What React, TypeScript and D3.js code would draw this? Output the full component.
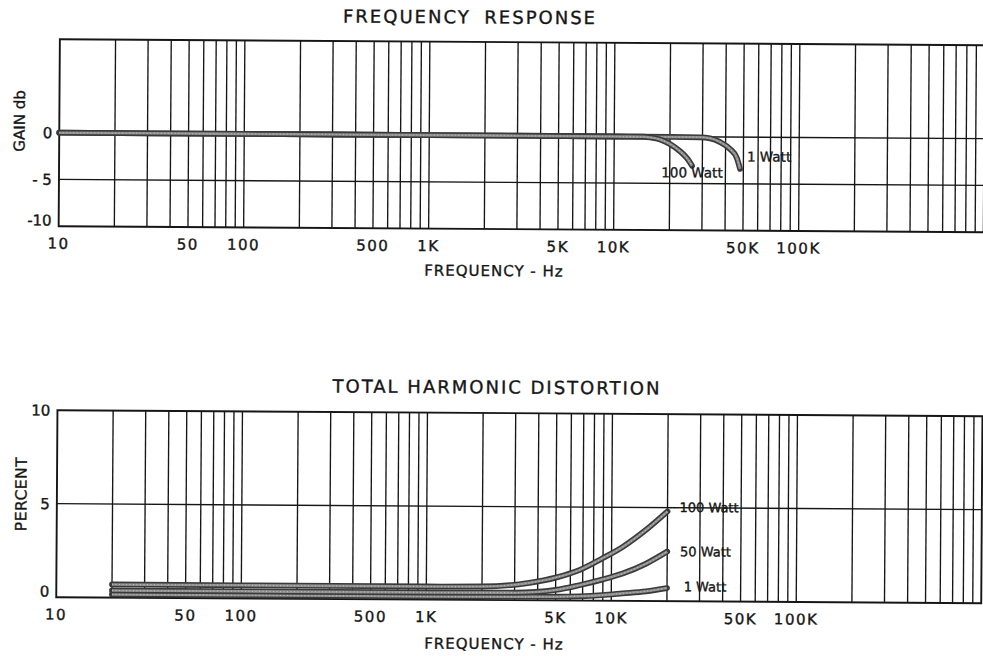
import React from "react";
import * as d3 from "d3";

// ---------- data ----------
const xTickValues = [10, 50, 100, 500, 1000, 5000, 10000, 50000, 100000];
const xTickLabels = ["10", "50", "100", "500", "1K", "5K", "10K", "50K", "100K"];

const gainTickValues = [0, -5, -10];
const gainTickLabels = ["0", "- 5", "-10"];
const gainGridValues = [0, -5];

const thdTickValues = [10, 5, 0];
const thdTickLabels = ["10", "5", "0"];
const thdGridValues = [5];

// Frequency response (gain, dB)
const gain100WFreq = [10, 100, 1000, 10000, 14400, 15700, 17700, 20100, 22700, 24800, 26400];
const gain100WDb = [0, 0, 0, -0.02, -0.03, -0.1, -0.3, -0.8, -1.55, -2.3, -3.1];
const gain1WFreq = [10, 100, 1000, 10000, 20000, 29200, 33000, 37400, 42400, 46000, 48000];
const gain1WDb = [0, 0, 0, -0.02, -0.03, -0.05, -0.15, -0.55, -1.3, -2.2, -3.4];

// Total harmonic distortion (percent)
const thd100WFreq = [20, 100, 1000, 2000, 3600, 5000, 6700, 8900, 11500, 15400, 20000];
const thd100WPct = [0.7, 0.7, 0.7, 0.72, 0.93, 1.22, 1.63, 2.26, 2.89, 3.82, 4.8];
const thd50WFreq = [20, 100, 1000, 3000, 5000, 6700, 8900, 11500, 15400, 20000];
const thd50WPct = [0.38, 0.38, 0.38, 0.4, 0.56, 0.82, 1.13, 1.46, 2.0, 2.65];
const thd1WFreq = [20, 100, 1000, 5000, 6700, 8900, 11500, 15400, 20000];
const thd1WPct = [0.17, 0.17, 0.17, 0.2, 0.23, 0.3, 0.4, 0.52, 0.7];

// ---------- layout ----------
const W = 983;
const H = 656;
const SKEW = 0.372; // scan rotation of the original sheet
const FONT = "'DejaVu Sans', sans-serif";
const INK = "#161616";

const X0 = 58;
const X1 = 983;

const xScale = d3.scaleLog().domain([10, 1e6]).range([X0, X1]);
const gridFreqs = xScale.ticks().filter((f) => f > 10 && f < 1e6);

const yGain = d3.scaleLinear().domain([-10, 10]).range([229, 42]);
const yThd = d3.scaleLinear().domain([0, 10]).range([600, 413]);

const textStyle = { fontFamily: FONT, fill: INK, stroke: INK, strokeWidth: 0.35 } as const;

function Band({ d }: { d: string }) {
  return (
    <g fill="none" strokeLinejoin="round">
      <path d={d} stroke="#3a3a3a" strokeWidth={5.8} strokeLinecap="round" />
      <path d={d} stroke="#8e8e8e" strokeWidth={2.6} strokeLinecap="butt" />
      <path d={d} stroke="#bdbdbd" strokeWidth={1.2} strokeDasharray="1 2.5" strokeLinecap="butt" />
    </g>
  );
}

function Panel({
  yScale,
  gridValues,
  tickValues,
  tickLabels,
  tickBaseY,
}: {
  yScale: d3.ScaleLinear<number, number>;
  gridValues: number[];
  tickValues: number[];
  tickLabels: string[];
  tickBaseY: number;
}) {
  const [yb, yt] = yScale.range();
  return (
    <g>
      {gridFreqs.map((f) => (
        <line key={f} x1={xScale(f)} x2={xScale(f)} y1={yt} y2={yb} stroke={INK} strokeWidth={1.35} />
      ))}
      {gridValues.map((v) => (
        <line key={v} x1={X0} x2={X1} y1={yScale(v)} y2={yScale(v)} stroke={INK} strokeWidth={1.35} />
      ))}
      <rect x={X0} y={yt} width={X1 - X0} height={yb - yt} fill="none" stroke={INK} strokeWidth={1.9} />
      {tickValues.map((v, i) => {
        let y = yScale(v);
        if (v === yScale.domain()[0]) y = Math.min(y, yb - 6);
        return (
          <text key={v} x={51} y={y} dy="0.36em" textAnchor="end" fontSize={15} {...textStyle}>
            {tickLabels[i]}
          </text>
        );
      })}
      {xTickValues.map((f, i) => (
        <text key={f} x={xScale(f)} y={tickBaseY} textAnchor="middle" fontSize={15} letterSpacing={1.5} {...textStyle}>
          {xTickLabels[i]}
        </text>
      ))}
    </g>
  );
}

export default function App() {
  const gainLine = d3
    .line<[number, number]>()
    .x((p) => xScale(p[0]))
    .y((p) => yGain(p[1]))
    .curve(d3.curveMonotoneX);
  const thdLine = d3
    .line<[number, number]>()
    .x((p) => xScale(p[0]))
    .y((p) => yThd(p[1]))
    .curve(d3.curveMonotoneX);

  const zip = (a: number[], b: number[]) => a.map((v, i) => [v, b[i]] as [number, number]);

  return (
    <svg
      width={W}
      height={H}
      viewBox={`0 0 ${W} ${H}`}
      style={{ position: "absolute", left: 0, top: 0, background: "#fff" }}
    >
      <rect width={W} height={H} fill="#fff" />
      <g transform={`rotate(${SKEW}, 491, 328)`}>
        {/* ---------- FREQUENCY RESPONSE ---------- */}
        <text x={468} y={23.5} textAnchor="middle" fontSize={18} letterSpacing={2} wordSpacing={6} {...textStyle}>
          FREQUENCY RESPONSE
        </text>
        <Panel
          yScale={yGain}
          gridValues={gainGridValues}
          tickValues={gainTickValues}
          tickLabels={gainTickLabels}
          tickBaseY={251.5}
        />
        <Band d={gainLine(zip(gain1WFreq, gain1WDb)) || ""} />
        <Band d={gainLine(zip(gain100WFreq, gain100WDb)) || ""} />
        <text x={691} y={171.2} dy="0.36em" textAnchor="middle" fontSize={13.5} {...textStyle}>
          100 Watt
        </text>
        <text x={768} y={154.9} dy="0.36em" textAnchor="middle" fontSize={13.5} {...textStyle}>
          1 Watt
        </text>
        <text x={493.6} y={276} textAnchor="middle" fontSize={15} letterSpacing={1} {...textStyle}>
          FREQUENCY - Hz
        </text>
        <text transform="translate(18,124) rotate(-90)" textAnchor="middle" dy="0.36em" fontSize={15} {...textStyle}>
          GAIN db
        </text>

        {/* ---------- TOTAL HARMONIC DISTORTION ---------- */}
        <text x={497.4} y={393.5} textAnchor="middle" fontSize={18} letterSpacing={2} {...textStyle}>
          TOTAL HARMONIC DISTORTION
        </text>
        <Panel
          yScale={yThd}
          gridValues={thdGridValues}
          tickValues={thdTickValues}
          tickLabels={thdTickLabels}
          tickBaseY={622.5}
        />
        <Band d={thdLine(zip(thd1WFreq, thd1WPct)) || ""} />
        <Band d={thdLine(zip(thd50WFreq, thd50WPct)) || ""} />
        <Band d={thdLine(zip(thd100WFreq, thd100WPct)) || ""} />
        <line x1={671} x2={679} y1={506.6} y2={506.6} stroke={INK} strokeWidth={1} strokeDasharray="2 1.5" />
        <text x={710.2} y={506.1} dy="0.36em" textAnchor="middle" fontSize={13} {...textStyle}>
          100 Watt
        </text>
        <text x={707} y={550.3} dy="0.36em" textAnchor="middle" fontSize={13} {...textStyle}>
          50 Watt
        </text>
        <text x={706.7} y={585.3} dy="0.36em" textAnchor="middle" fontSize={13} {...textStyle}>
          1 Watt
        </text>
        <text x={496} y={649} textAnchor="middle" fontSize={15} letterSpacing={1} {...textStyle}>
          FREQUENCY - Hz
        </text>
        <text
          transform="translate(22,497) rotate(-90)"
          textAnchor="middle"
          dy="0.36em"
          fontSize={15.5}
          letterSpacing={0.5}
          {...textStyle}
        >
          PERCENT
        </text>
      </g>
    </svg>
  );
}
